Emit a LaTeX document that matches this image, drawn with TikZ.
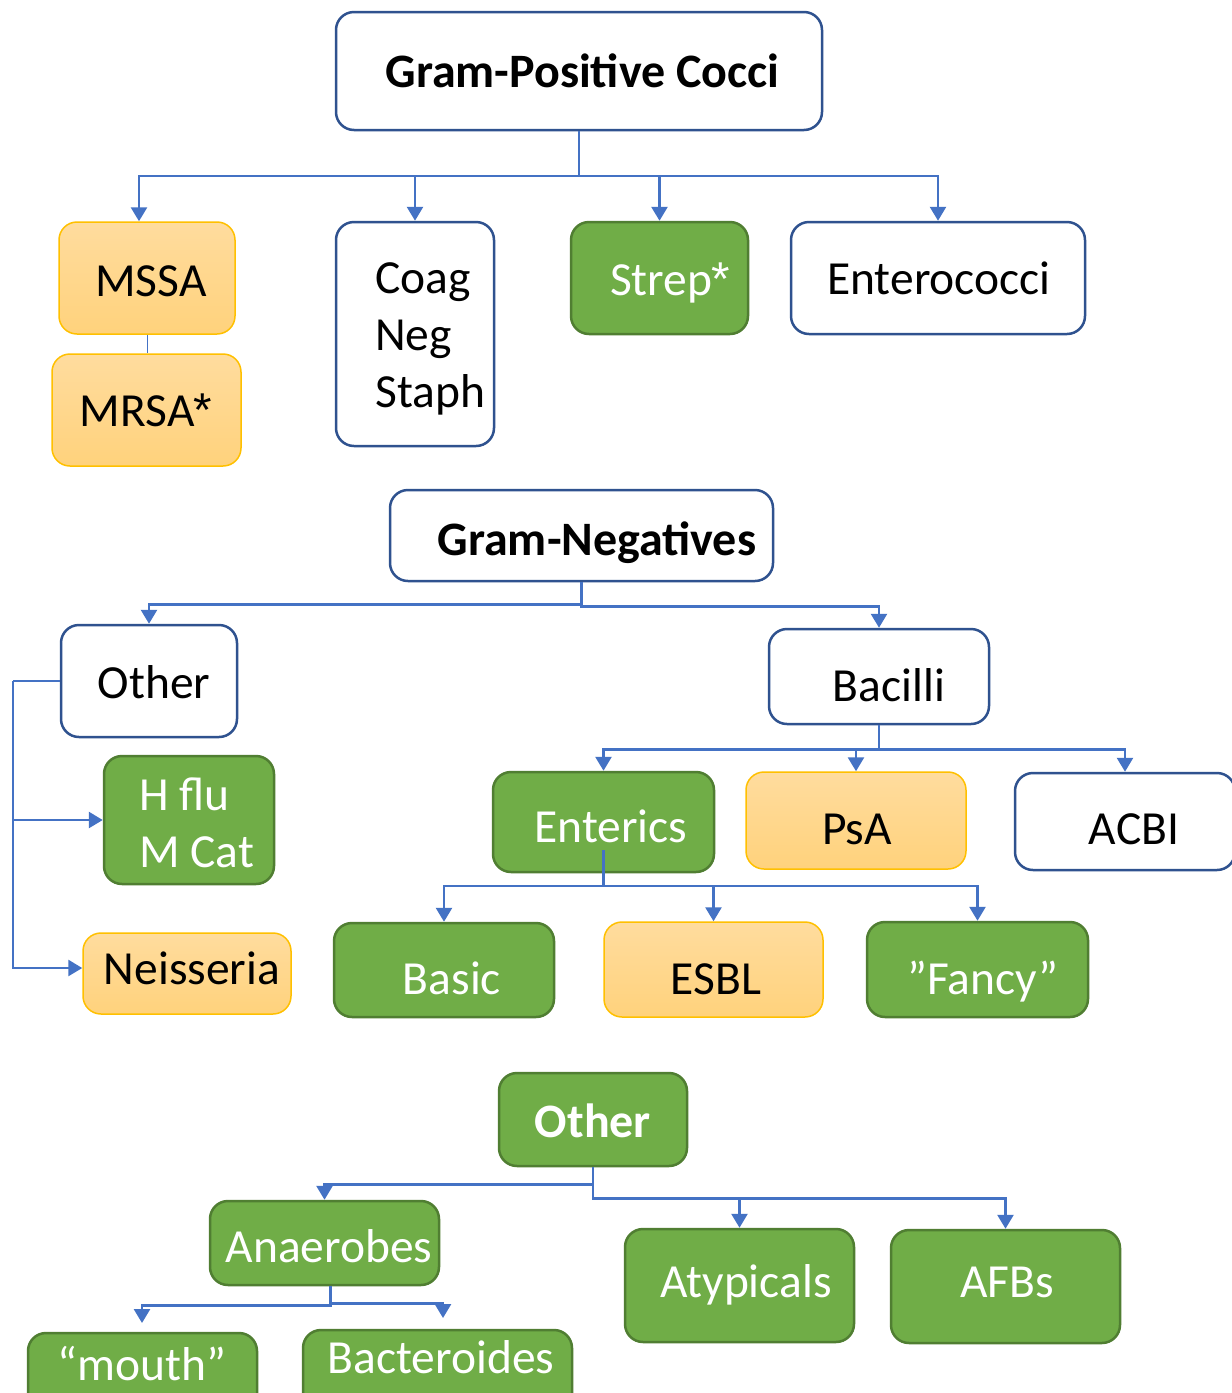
\documentclass[tikz,border=0pt]{standalone}
\usepackage{fontspec}
\setmainfont{Carlito}
\newfontfamily\astfont{Liberation Sans}
\newcommand{\myast}{\kern-1pt{\astfont*}}
\usetikzlibrary{arrows.meta,calc}
\definecolor{bbord}{HTML}{2F528F}
\definecolor{lblue}{HTML}{4472C4}
\definecolor{gfill}{HTML}{70AD47}
\definecolor{gbord}{HTML}{507E32}
\definecolor{otop}{HTML}{FFDC9E}
\definecolor{obot}{HTML}{FFD27C}
\definecolor{obord}{HTML}{FFC000}
\begin{document}
\begin{tikzpicture}[x=1pt,y=-1pt,
  boxbase/.style={rounded corners=18pt, line width=2.5pt, inner sep=0pt},
  wbox/.style={boxbase, draw=bbord, fill=white},
  gbox/.style={boxbase, draw=gbord, fill=gfill},
  obox/.style={boxbase, draw=obord, line width=1.5pt, top color=otop, bottom color=obot},
  txt/.style={inner sep=0pt, anchor=base, font=\fontsize{47.5}{57}\selectfont, text=black},
  btxt/.style={txt, font=\fontsize{48}{57}\selectfont\bfseries},
  wtxt/.style={txt, text=white},
  ltxt/.style={txt, anchor=base west},
  conn/.style={draw=lblue, line width=2.7pt},
  arr/.style={conn, -{Triangle[width=16pt,length=14pt]}},
]
\useasboundingbox (0,0) rectangle (1232,1393);
\clip (0,0) rectangle (1232,1393);
\fill[white] (0,0) rectangle (1232,1393);

% ---------- Gram-positive ----------
\node[wbox, minimum width=486pt, minimum height=118pt] (gpc) at (579,71) {};
\node[obox, minimum width=176pt, minimum height=112pt] (mssa) at (147,278) {};
\node[obox, minimum width=189pt, minimum height=112pt] (mrsa) at (146.5,410) {};
\node[wbox, minimum width=158pt, minimum height=224pt] (coag) at (415,334) {};
\node[gbox, minimum width=177pt, minimum height=112pt] (strep) at (659.5,278) {};
\node[wbox, minimum width=294pt, minimum height=112pt] (entero) at (938,278) {};

\node[btxt] (gpct) at (582.5,87) {Gram-Positive Cocci};
\node[txt] (mssat) at (151,296) {MSSA};
\node[txt] (mrsat) at (146,426) {MRSA\myast};
\node[ltxt] (coag1) at (375,293) {Coag};
\node[ltxt] (coag2) at (375,350) {Neg};
\node[ltxt] (coag3) at (375,407) {Staph};
\node[wtxt] (strept) at (670,295) {Strep\myast};
\node[txt] (enterot) at (939,294) {Enterococci};

\coordinate (t1) at (579,176);
\draw[conn] (gpc.south) -- (t1);
\draw[arr] (t1) -| ([xshift=-8pt]mssa.north);
\draw[arr] (t1) -| (coag.north);
\draw[arr] (t1) -| (strep.north);
\draw[arr] (t1) -| (entero.north);
\draw[draw=lblue, line width=1pt] (mssa.south) -- (mssa.south |- mrsa.north);

% ---------- Gram-negative ----------
\node[wbox, minimum width=383pt, minimum height=91pt] (gn) at (581.5,535.5) {};
\node[wbox, minimum width=176pt, minimum height=112pt] (other) at (149,681) {};
\node[gbox, minimum width=170pt, minimum height=128pt] (hflu) at (189,820) {};
\node[obox, minimum width=208pt, minimum height=81pt] (neis) at (187,973.5) {};
\node[wbox, minimum width=220pt, minimum height=95pt] (bacilli) at (879,676.5) {};
\node[gbox, minimum width=221pt, minimum height=100pt] (enterics) at (603.5,822) {};
\node[obox, minimum width=220pt, minimum height=97pt] (psa) at (856,820.5) {};
\node[wbox, minimum width=220pt, minimum height=97pt] (acbi) at (1125,821.5) {};
\node[gbox, minimum width=220pt, minimum height=94pt] (basic) at (444,970) {};
\node[obox, minimum width=219pt, minimum height=95pt] (esbl) at (713.5,969.5) {};
\node[gbox, minimum width=221pt, minimum height=95pt] (fancy) at (977.5,969.5) {};

\node[btxt] (gnt) at (597,555) {Gram-Negatives};
\node[txt] (othert) at (154,698) {Other};
\node[ltxt, text=white] (hflu1) at (139,810) {H flu};
\node[ltxt, text=white] (hflu2) at (139,867) {M Cat};
\node[txt] (neist) at (192,984) {Neisseria};
\node[txt] (bacillit) at (889,701) {Bacilli};
\node[wtxt] (entericst) at (611,842) {Enterics};
\node[txt] (psat) at (857,844) {PsA};
\node[txt] (acbit) at (1134,844) {ACBI};
\node[wtxt] (basict) at (452,994) {Basic};
\node[txt] (esblt) at (716,994) {ESBL};
\node[wtxt] (fancyt) at (983,994) {”Fancy”};

\draw[arr] (gn.south) -- ++(0,22) -| (other.north);
\draw[arr] (gn.south) -- ++(0,24) -| (bacilli.north);
\coordinate (ol) at (13,681);
\draw[conn] (other.west) -- (ol);
\draw[arr] (ol) |- (hflu.west);
\draw[arr] (ol) |- ([yshift=5.5pt]neis.west);
\draw[arr] (bacilli.south) -- ++(0,24) -| (enterics.north);
\draw[arr] (bacilli.south) -- ++(0,24) -| (psa.north);
\draw[arr] (bacilli.south) -- ++(0,24) -| (acbi.north);
\coordinate (es) at ([yshift=-28pt]enterics.center);
\draw[arr] (es) -- ++(0,36) -| (basic.north);
\draw[arr] (es) -- ++(0,36) -| (esbl.north);
\draw[arr] (es) -- ++(0,36) -| (fancy.north);

% ---------- Other ----------
\node[gbox, minimum width=188pt, minimum height=93pt] (oth2) at (593,1119.5) {};
\node[gbox, minimum width=229pt, minimum height=84pt] (anaer) at (324.5,1243) {};
\node[gbox, minimum width=229pt, minimum height=113pt] (atyp) at (739.5,1285.5) {};
\node[gbox, minimum width=229pt, minimum height=113pt] (afb) at (1005.5,1286.5) {};
\node[gbox, minimum width=229pt, minimum height=117pt] (mouth) at (142.5,1391.5) {};
\node[gbox, minimum width=269pt, minimum height=120pt] (bact) at (437.5,1390) {};

\node[btxt, text=white] (oth2t) at (593,1137) {Other};
\node[wtxt] (anaert) at (329,1262) {Anaerobes};
\node[wtxt] (atypt) at (746,1297) {Atypicals};
\node[wtxt] (afbt) at (1007,1297) {AFBs};
\node[wtxt] (moutht) at (142,1380) {“mouth”};
\node[wtxt] (bactt) at (441,1373) {Bacteroides};

\draw[arr] (oth2.south) -- ++(0,17) -| (anaer.north);
\draw[arr] (oth2.south) -- ++(0,31) -| (atyp.north);
\draw[arr] (oth2.south) -- ++(0,31) -| (afb.north);
\coordinate (mtip) at (142,1323);
\coordinate (btip) at (443,1318);
\draw[arr] ([xshift=6pt]anaer.south) -- ++(0,19) -| (mtip);
\draw[arr] ([xshift=6pt]anaer.south) -- ++(0,17) -| (btip);
\end{tikzpicture}
\end{document}
